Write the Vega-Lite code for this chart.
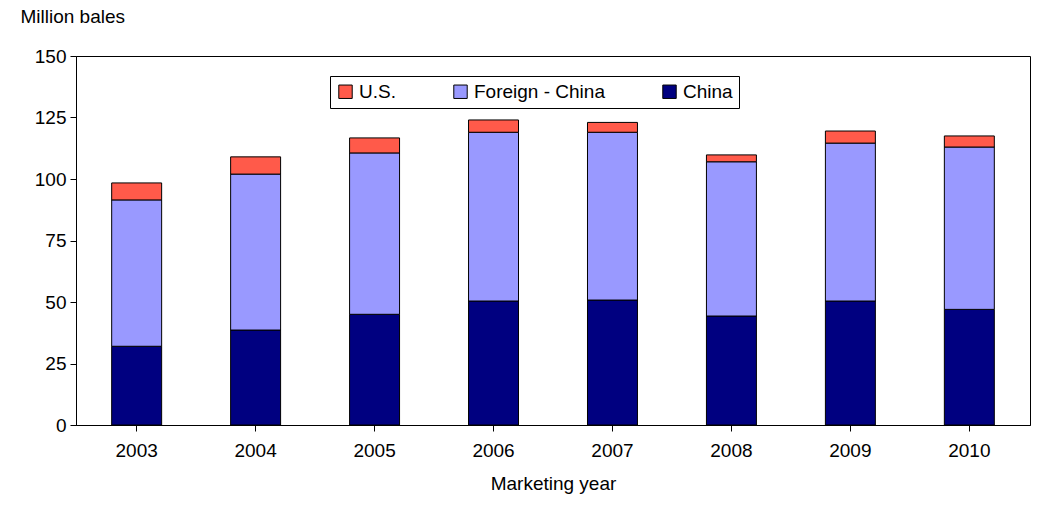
{
  "$schema": "https://vega.github.io/schema/vega-lite/v6.json",
  "width": 954,
  "height": 369,
  "autosize": "none",
  "padding": {"left": 76, "top": 56, "right": 11, "bottom": 88},
  "background": "white",
  "config": {
    "font": "Liberation Sans",
    "view": {"stroke": "black", "strokeWidth": 1},
    "axis": {"labelFontSize": 19, "titleFontSize": 19, "labelColor": "black", "titleColor": "black", "titleFontWeight": "normal", "domainColor": "black", "tickColor": "black", "grid": false}
  },
  "data": {
    "values": [
      {"year": "2003", "s": "China", "v": 32, "o": 1},
      {"year": "2003", "s": "Foreign - China", "v": 59.5, "o": 2},
      {"year": "2003", "s": "U.S.", "v": 6.9, "o": 3},
      {"year": "2004", "s": "China", "v": 38.6, "o": 1},
      {"year": "2004", "s": "Foreign - China", "v": 63.4, "o": 2},
      {"year": "2004", "s": "U.S.", "v": 7, "o": 3},
      {"year": "2005", "s": "China", "v": 45, "o": 1},
      {"year": "2005", "s": "Foreign - China", "v": 65.6, "o": 2},
      {"year": "2005", "s": "U.S.", "v": 6.1, "o": 3},
      {"year": "2006", "s": "China", "v": 50.4, "o": 1},
      {"year": "2006", "s": "Foreign - China", "v": 68.6, "o": 2},
      {"year": "2006", "s": "U.S.", "v": 5, "o": 3},
      {"year": "2007", "s": "China", "v": 50.8, "o": 1},
      {"year": "2007", "s": "Foreign - China", "v": 68.2, "o": 2},
      {"year": "2007", "s": "U.S.", "v": 4, "o": 3},
      {"year": "2008", "s": "China", "v": 44.3, "o": 1},
      {"year": "2008", "s": "Foreign - China", "v": 62.7, "o": 2},
      {"year": "2008", "s": "U.S.", "v": 2.8, "o": 3},
      {"year": "2009", "s": "China", "v": 50.4, "o": 1},
      {"year": "2009", "s": "Foreign - China", "v": 64.2, "o": 2},
      {"year": "2009", "s": "U.S.", "v": 4.9, "o": 3},
      {"year": "2010", "s": "China", "v": 47, "o": 1},
      {"year": "2010", "s": "Foreign - China", "v": 66, "o": 2},
      {"year": "2010", "s": "U.S.", "v": 4.5, "o": 3}
    ]
  },
  "mark": {"type": "bar", "stroke": "black", "strokeWidth": 1},
  "encoding": {
    "x": {
      "field": "year", "type": "nominal",
      "scale": {"paddingInner": 0.58, "paddingOuter": 0.3},
      "axis": {"labelAngle": 0, "title": "Marketing year", "labelPadding": 10, "titlePadding": 14, "tickSize": 6}
    },
    "y": {
      "field": "v", "type": "quantitative", "stack": "zero",
      "scale": {"domain": [0, 150]},
      "axis": {"values": [0, 25, 50, 75, 100, 125, 150], "title": "Million bales", "titleAngle": 0, "titleAlign": "left", "titleX": -56, "titleY": -30, "tickSize": 6, "labelPadding": 4}
    },
    "color": {
      "field": "s", "type": "nominal",
      "scale": {"domain": ["U.S.", "Foreign - China", "China"], "range": ["#ff5a4a", "#9999ff", "#000080"]},
      "legend": {
        "title": null, "orient": "none", "direction": "horizontal",
        "legendX": 254, "legendY": 20, "labelFontSize": 19, "labelColor": "black",
        "symbolType": "square", "symbolSize": 180, "symbolStrokeColor": "black", "symbolStrokeWidth": 1,
        "strokeColor": "black", "padding": 6, "columnPadding": 55, "fillColor": "white"
      }
    },
    "order": {"field": "o"}
  }
}
